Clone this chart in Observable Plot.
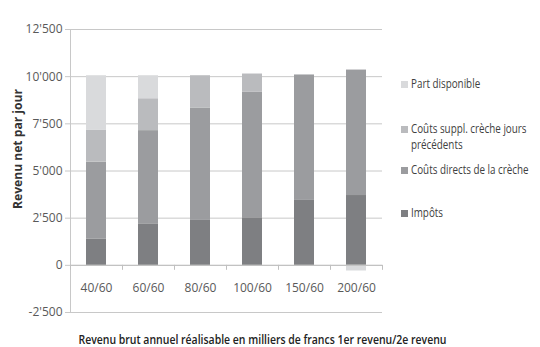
<!DOCTYPE html>
<html>
<head>
<meta charset="utf-8">
<script src="https://cdn.jsdelivr.net/npm/d3@7"></script>
<script src="https://cdn.jsdelivr.net/npm/@observablehq/plot@0.6"></script>
<style>
  html, body { margin: 0; padding: 0; background: #fff; }
  #wrap { position: relative; width: 540px; height: 347px; font-family: "Open Sans", sans-serif; }
  #legend { position: absolute; left: 401px; top: 0; width: 139px; font-size: 12px; color: #404040; }
  .item { position: absolute; left: 0; display: flex; align-items: flex-start; line-height: 16px; white-space: nowrap; }
  .sw { width: 7px; height: 7px; margin-top: 5px; margin-right: 3px; flex: none; }
  .lbl { display: inline-block; transform: scaleX(0.82); transform-origin: left center; }
</style>
</head>
<body>
<div id="wrap"><div id="chart"></div><div id="legend"></div></div>
<script>
const categories = ["40/60", "60/60", "80/60", "100/60", "150/60", "200/60"];
const seriesNames = ["Impôts", "Coûts directs de la crèche", "Coûts suppl. crèche jours précédents", "Part disponible"];
const impots = [1400, 2170, 2380, 2520, 3440, 3700];
const coutsDirects = [4070, 4970, 5960, 6650, 6650, 6650];
const coutsSuppl = [1680, 1690, 1710, 970, 0, 0];
const partDisponible = [2900, 1220, 0, 0, 0, -300];
const colors = ["#7e7f82", "#9b9c9f", "#babbbe", "#d9dadc"];
const yTicks = [-2500, 0, 2500, 5000, 7500, 10000, 12500];
const yTitle = "Revenu net par jour";
const xTitle = "Revenu brut annuel réalisable en milliers de francs 1er revenu/2e revenu";

const seriesValues = [impots, coutsDirects, coutsSuppl, partDisponible];
const data = [];
seriesNames.forEach((s, si) => categories.forEach((c, ci) => data.push({cat: c, series: s, value: seriesValues[si][ci]})));

const fmt = d3.formatLocale({decimal: ".", thousands: "'", grouping: [3], currency: ["", ""], minus: "-"}).format(",d");

const W = 540, H = 347, ML = 70, MR = 158, MT = 29, MB = 35;
const step = (W - ML - MR) / categories.length;
const font = "Open Sans, sans-serif";

const chart = Plot.plot({
  width: W, height: H,
  marginLeft: ML, marginRight: MR, marginTop: MT, marginBottom: MB,
  style: {fontFamily: font, fontSize: "12px", color: "#595959", background: "white"},
  x: {domain: categories, paddingInner: 0.615, paddingOuter: 0.3075, axis: null},
  y: {domain: [-2500, 12500], axis: null},
  color: {domain: seriesNames, range: colors},
  marks: [
    Plot.ruleY(yTicks, {stroke: "#c8c8c8", strokeWidth: 1}),
    Plot.frame({anchor: "left", stroke: "#c8c8c8"}),
    Plot.axisY(yTicks, {tickSize: 5, tickPadding: 3, tickFormat: fmt, stroke: "#c8c8c8", fill: "#595959", fontSize: 12, label: null}),
    Plot.barY(data, {x: "cat", y: "value", fill: "series", order: seriesNames}),
    Plot.ruleY([0], {stroke: "#c0c0c0"}),
    Plot.ruleX(categories, {x: d => d, y1: 0, y2: 0, insetBottom: -5, dx: -step / 2, stroke: "#c0c0c0"}),
    Plot.ruleX(categories.slice(-1), {x: d => d, y1: 0, y2: 0, insetBottom: -5, dx: step / 2, stroke: "#c0c0c0"}),
    Plot.text(categories, {x: d => d, y: 0, dy: 23, fill: "#595959", fontSize: 12}),
    Plot.text([yTitle], {frameAnchor: "left", textAnchor: "middle", rotate: -90, dx: -52, dy: -22, fontWeight: "bold", fontSize: 12, fill: "#333"}),
    Plot.text([xTitle], {frameAnchor: "bottom", textAnchor: "middle", lineAnchor: "middle", dy: 28, dx: 36, fontWeight: 600, fontSize: 12, fill: "#222"})
  ]
});
document.getElementById("chart").appendChild(chart);

chart.querySelectorAll("text").forEach(t => {
  if (t.textContent === xTitle) { t.setAttribute("textLength", 368); t.setAttribute("lengthAdjust", "spacingAndGlyphs"); }
  if (t.textContent === yTitle) { t.setAttribute("textLength", 120); t.setAttribute("lengthAdjust", "spacingAndGlyphs"); }
});

const legendItems = [
  {name: "Part disponible", lines: ["Part disponible"], top: 76},
  {name: "Coûts suppl. crèche jours précédents", lines: ["Coûts suppl. crèche jours", "précédents"], top: 121},
  {name: "Coûts directs de la crèche", lines: ["Coûts directs de la crèche"], top: 162},
  {name: "Impôts", lines: ["Impôts"], top: 205}
];
const leg = document.getElementById("legend");
legendItems.forEach(it => {
  const div = document.createElement("div");
  div.className = "item";
  div.style.top = it.top + "px";
  const sw = document.createElement("span");
  sw.className = "sw";
  sw.style.background = colors[seriesNames.indexOf(it.name)];
  const t = document.createElement("span");
  t.className = "lbl";
  it.lines.forEach((l, i) => { if (i) t.appendChild(document.createElement("br")); t.appendChild(document.createTextNode(l)); });
  div.appendChild(sw); div.appendChild(t);
  leg.appendChild(div);
});
</script>
</body>
</html>
